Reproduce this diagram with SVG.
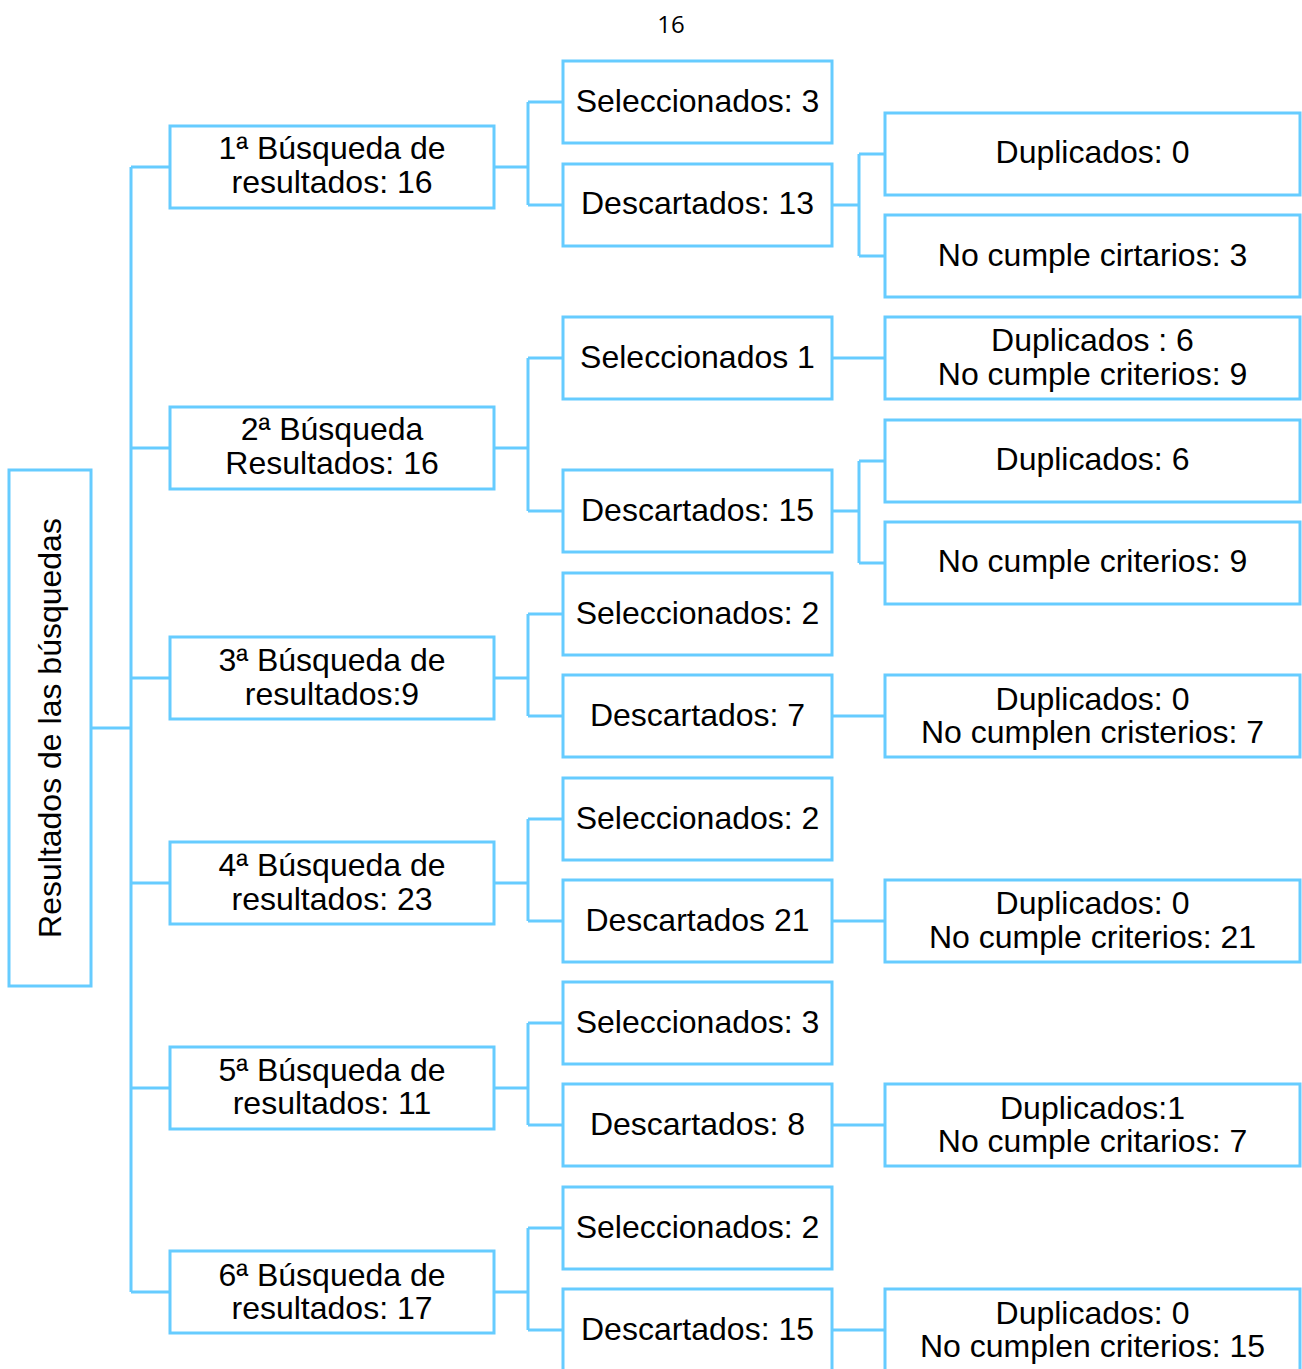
<svg xmlns="http://www.w3.org/2000/svg" width="1302" height="1369" viewBox="0 0 1302 1369">
<style>
.b{fill:#fff;stroke:#66ccff;stroke-width:3}
.c{fill:none;stroke:#66ccff;stroke-width:3}
.t{font-family:"Liberation Sans",Arial,sans-serif;font-size:32px;fill:#000;text-anchor:middle}
.p{font-family:"Open Sans","Liberation Sans",sans-serif;font-size:24px;fill:#000;text-anchor:middle}
</style>
<rect width="1302" height="1369" fill="#fff"/>
<text class="p" x="671" y="33">16</text>
<g id="connectors">
<path class="c" d="M91,728H131M131,167V1292M131,167H170M131,448H170M131,678H170M131,883H170M131,1088H170M131,1292H170"/>
<path class="c" d="M494,167H528M528,102V205M528,102H563M528,205H563"/>
<path class="c" d="M494,448H528M528,358V511M528,358H563M528,511H563"/>
<path class="c" d="M494,678H528M528,614V716M528,614H563M528,716H563"/>
<path class="c" d="M494,883H528M528,819V921M528,819H563M528,921H563"/>
<path class="c" d="M494,1088H528M528,1023V1125M528,1023H563M528,1125H563"/>
<path class="c" d="M494,1292H528M528,1228V1330M528,1228H563M528,1330H563"/>
<path class="c" d="M832,205H859M859,154V256M859,154H885M859,256H885"/>
<path class="c" d="M832,358H885"/>
<path class="c" d="M832,511H859M859,461V563M859,461H885M859,563H885"/>
<path class="c" d="M832,716H885"/>
<path class="c" d="M832,921H885"/>
<path class="c" d="M832,1125H885"/>
<path class="c" d="M832,1330H885"/>
</g>
<g id="root"><rect class="b" x="9" y="470" width="82" height="516"/><text class="t" transform="translate(61,728) rotate(-90)">Resultados de las búsquedas</text></g>
<g id="b1"><rect class="b" x="170" y="126" width="324" height="82"/><text class="t" x="332" y="159">1ª Búsqueda de</text><text class="t" x="332" y="193">resultados: 16</text></g>
<g id="b2"><rect class="b" x="170" y="407" width="324" height="82"/><text class="t" x="332" y="440">2ª Búsqueda</text><text class="t" x="332" y="474">Resultados: 16</text></g>
<g id="b3"><rect class="b" x="170" y="637" width="324" height="82"/><text class="t" x="332" y="671">3ª Búsqueda de</text><text class="t" x="332" y="705">resultados:9</text></g>
<g id="b4"><rect class="b" x="170" y="842" width="324" height="82"/><text class="t" x="332" y="876">4ª Búsqueda de</text><text class="t" x="332" y="910">resultados: 23</text></g>
<g id="b5"><rect class="b" x="170" y="1047" width="324" height="82"/><text class="t" x="332" y="1081">5ª Búsqueda de</text><text class="t" x="332" y="1114">resultados: 11</text></g>
<g id="b6"><rect class="b" x="170" y="1251" width="324" height="82"/><text class="t" x="332" y="1286">6ª Búsqueda de</text><text class="t" x="332" y="1319">resultados: 17</text></g>
<g id="s1"><rect class="b" x="563" y="61" width="269" height="82"/><text class="t" x="697.5" y="112">Seleccionados: 3</text></g>
<g id="d1"><rect class="b" x="563" y="164" width="269" height="82"/><text class="t" x="697.5" y="214">Descartados: 13</text></g>
<g id="s2"><rect class="b" x="563" y="317" width="269" height="82"/><text class="t" x="697.5" y="368">Seleccionados 1</text></g>
<g id="d2"><rect class="b" x="563" y="470" width="269" height="82"/><text class="t" x="697.5" y="521">Descartados: 15</text></g>
<g id="s3"><rect class="b" x="563" y="573" width="269" height="82"/><text class="t" x="697.5" y="624">Seleccionados: 2</text></g>
<g id="d3"><rect class="b" x="563" y="675" width="269" height="82"/><text class="t" x="697.5" y="726">Descartados: 7</text></g>
<g id="s4"><rect class="b" x="563" y="778" width="269" height="82"/><text class="t" x="697.5" y="829">Seleccionados: 2</text></g>
<g id="d4"><rect class="b" x="563" y="880" width="269" height="82"/><text class="t" x="697.5" y="931">Descartados 21</text></g>
<g id="s5"><rect class="b" x="563" y="982" width="269" height="82"/><text class="t" x="697.5" y="1033">Seleccionados: 3</text></g>
<g id="d5"><rect class="b" x="563" y="1084" width="269" height="82"/><text class="t" x="697.5" y="1135">Descartados: 8</text></g>
<g id="s6"><rect class="b" x="563" y="1187" width="269" height="82"/><text class="t" x="697.5" y="1238">Seleccionados: 2</text></g>
<g id="d6"><rect class="b" x="563" y="1289" width="269" height="82"/><text class="t" x="697.5" y="1340">Descartados: 15</text></g>
<g id="r1a"><rect class="b" x="885" y="113" width="415" height="82"/><text class="t" x="1092.5" y="163">Duplicados: 0</text></g>
<g id="r1b"><rect class="b" x="885" y="215" width="415" height="82"/><text class="t" x="1092.5" y="266">No cumple cirtarios: 3</text></g>
<g id="r2a"><rect class="b" x="885" y="317" width="415" height="82"/><text class="t" x="1092.5" y="351">Duplicados : 6</text><text class="t" x="1092.5" y="385">No cumple criterios: 9</text></g>
<g id="r2b"><rect class="b" x="885" y="420" width="415" height="82"/><text class="t" x="1092.5" y="470">Duplicados: 6</text></g>
<g id="r2c"><rect class="b" x="885" y="522" width="415" height="82"/><text class="t" x="1092.5" y="572">No cumple criterios: 9</text></g>
<g id="r3"><rect class="b" x="885" y="675" width="415" height="82"/><text class="t" x="1092.5" y="710">Duplicados: 0</text><text class="t" x="1092.5" y="743">No cumplen cristerios: 7</text></g>
<g id="r4"><rect class="b" x="885" y="880" width="415" height="82"/><text class="t" x="1092.5" y="914">Duplicados: 0</text><text class="t" x="1092.5" y="948">No cumple criterios: 21</text></g>
<g id="r5"><rect class="b" x="885" y="1084" width="415" height="82"/><text class="t" x="1092.5" y="1119">Duplicados:1</text><text class="t" x="1092.5" y="1152">No cumple critarios: 7</text></g>
<g id="r6"><rect class="b" x="885" y="1289" width="415" height="82"/><text class="t" x="1092.5" y="1324">Duplicados: 0</text><text class="t" x="1092.5" y="1357">No cumplen criterios: 15</text></g>
</svg>
